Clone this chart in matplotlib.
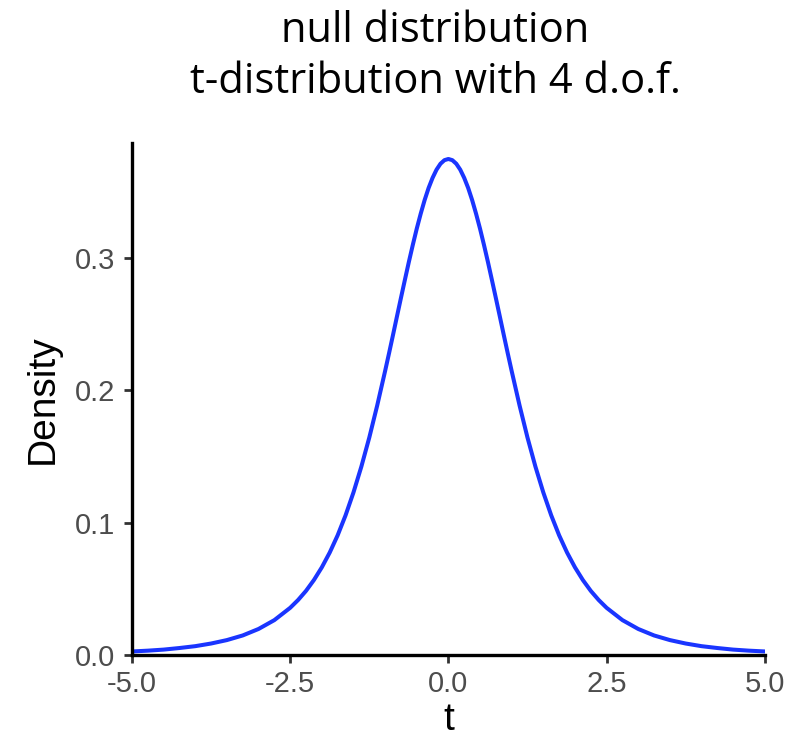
import matplotlib
matplotlib.use("Agg")
import matplotlib.pyplot as plt

# density values (symmetric about 0)
t_pos = [0.0, 0.0625, 0.125, 0.1875, 0.25, 0.3125, 0.375, 0.4375, 0.5, 0.5625,
         0.625, 0.6875, 0.75, 0.8125, 0.875, 0.9375, 1.0, 1.125, 1.25, 1.375,
         1.5, 1.625, 1.75, 1.875, 2.0, 2.125, 2.25, 2.375, 2.5, 2.75, 3.0, 3.25,
         3.5, 3.75, 4.0, 4.25, 4.5, 4.75, 5.0]
dens_pos = [0.3750, 0.3741, 0.3714, 0.3669, 0.3607, 0.3531, 0.3440, 0.3336,
            0.3223, 0.3100, 0.2971, 0.2836, 0.2699, 0.2560, 0.2420, 0.2282,
            0.2147, 0.1886, 0.1644, 0.1425, 0.1229, 0.1056, 0.0905, 0.0775,
            0.0663, 0.0567, 0.0485, 0.0416, 0.0357, 0.0264, 0.0197, 0.0148,
            0.0113, 0.0087, 0.0067, 0.0053, 0.0041, 0.0033, 0.0027]

t_vals = [-v for v in t_pos[:0:-1]] + t_pos
dens_vals = dens_pos[:0:-1] + dens_pos

xticks = [-5.0, -2.5, 0.0, 2.5, 5.0]
yticks = [0.0, 0.1, 0.2, 0.3]

fig = plt.figure(figsize=(7.96, 7.43), dpi=100)
ax = fig.add_axes([0.1658, 0.1184, 0.795, 0.689])

ax.plot(t_vals, dens_vals, color="#1a35ff", lw=2.9, solid_joinstyle="round")

ax.set_xlim(-5, 5)
ax.set_ylim(0, 0.387)
ax.set_xticks(xticks)
ax.set_xticklabels(["%.1f" % v for v in xticks], family="Liberation Sans")
ax.set_yticks(yticks)
ax.set_yticklabels(["%.1f" % v for v in yticks], family="Liberation Sans")

for side in ["top", "right"]:
    ax.spines[side].set_visible(False)
for side in ["left", "bottom"]:
    ax.spines[side].set_linewidth(2.4)
    ax.spines[side].set_color("black")

ax.tick_params(axis="both", direction="out", length=6, width=2,
               colors="#333333", labelsize=21, labelcolor="#4d4d4d")
ax.tick_params(axis="y", pad=6)
ax.tick_params(axis="x", pad=5)
ax.set_xlabel("t", fontsize=28, family="Liberation Sans", labelpad=3)
ax.set_ylabel("Density", fontsize=28, family="Liberation Sans", labelpad=10)

fig.text(0.547, 0.9435, "null distribution", ha="center", va="baseline",
         fontsize=30, family="Open Sans")
fig.text(0.547, 0.8745, "t-distribution with 4 d.o.f.", ha="center",
         va="baseline", fontsize=30, family="Open Sans")

fig.savefig("out.png", dpi=100)
